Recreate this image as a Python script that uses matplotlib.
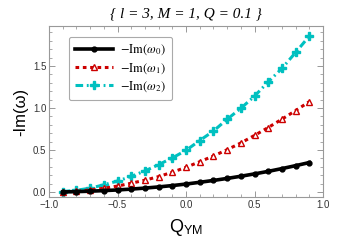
import matplotlib
matplotlib.use("Agg")
import matplotlib.pyplot as plt
from matplotlib.ticker import MultipleLocator

q_ym = [-0.9, -0.8, -0.7, -0.6, -0.5, -0.4, -0.3, -0.2, -0.1, 0.0,
        0.1, 0.2, 0.3, 0.4, 0.5, 0.6, 0.7, 0.8, 0.9]
im_w0 = [0.0, 0.004, 0.009, 0.016, 0.024, 0.034, 0.046, 0.060, 0.076, 0.094,
         0.115, 0.137, 0.161, 0.187, 0.215, 0.245, 0.278, 0.313, 0.350]
im_w1 = [0.0, 0.008, 0.024, 0.044, 0.070, 0.104, 0.140, 0.183, 0.235, 0.293,
         0.360, 0.428, 0.503, 0.583, 0.673, 0.767, 0.866, 0.968, 1.075]
im_w2 = [0.005, 0.020, 0.045, 0.085, 0.130, 0.185, 0.250, 0.325, 0.405, 0.495,
         0.612, 0.725, 0.865, 0.995, 1.140, 1.310, 1.470, 1.660, 1.855]
labels = [r"$-\mathrm{Im}(\omega_0)$", r"$-\mathrm{Im}(\omega_1)$", r"$-\mathrm{Im}(\omega_2)$"]

plt.rcParams['mathtext.fontset'] = 'stix'

fig = plt.figure(figsize=(3.43, 2.43), dpi=100)
ax = fig.add_axes([0.1429, 0.1893, 0.7988, 0.7037])

red = '#cc0000'
cyan = '#00c0c0'
ax.plot(q_ym, im_w0, color='black', lw=2.6, marker='o', ms=3.5, label=labels[0], zorder=3)
ax.plot(q_ym, im_w1, color=red, lw=2.2, ls=(0, (1.2, 1.2)), marker='^', ms=5,
        mfc='white', mec=red, mew=1.0, label=labels[1], zorder=2)
ax.plot(q_ym, im_w2, color=cyan, lw=2.2, ls=(0, (2.5, 1.2, 0.6, 1.2)), marker='P', ms=5.2,
        mfc=cyan, mec=cyan, label=labels[2], zorder=1)

ax.set_xlim(-1, 1)
ax.set_ylim(-0.06, 1.975)
ax.xaxis.set_major_locator(MultipleLocator(0.5))
ax.xaxis.set_minor_locator(MultipleLocator(0.1))
ax.yaxis.set_major_locator(MultipleLocator(0.5))
ax.yaxis.set_minor_locator(MultipleLocator(0.1))
ax.tick_params(which='both', direction='in', top=True, right=True, color='#888888')
ax.tick_params(which='major', length=4, width=0.6, labelsize=7, labelcolor='#333333', pad=2)
ax.tick_params(which='minor', length=2, width=0.5)
for lab in ax.get_xticklabels() + ax.get_yticklabels():
    lab.set_family('Liberation Sans')
for s in ax.spines.values():
    s.set_color('#999999')
    s.set_linewidth(0.8)

ax.set_xlabel(r'Q$_\mathregular{YM}$', fontsize=13, family='Liberation Sans', labelpad=5)
ax.set_ylabel('-Im(ω)', fontsize=12, family='Liberation Sans', labelpad=3)
ax.set_title('{ l = 3, M = 1, Q = 0.1 }', fontsize=11, family='Liberation Serif',
             style='italic', pad=6)

leg = ax.legend(loc='upper left', bbox_to_anchor=(0.05, 0.975), fontsize=9, handlelength=3.0,
                frameon=True, fancybox=True, edgecolor='#aaaaaa', framealpha=1,
                borderpad=0.5, labelspacing=0.3, handletextpad=0.6)
leg.get_frame().set_linewidth(0.8)

fig.savefig('out.png', dpi=100)
